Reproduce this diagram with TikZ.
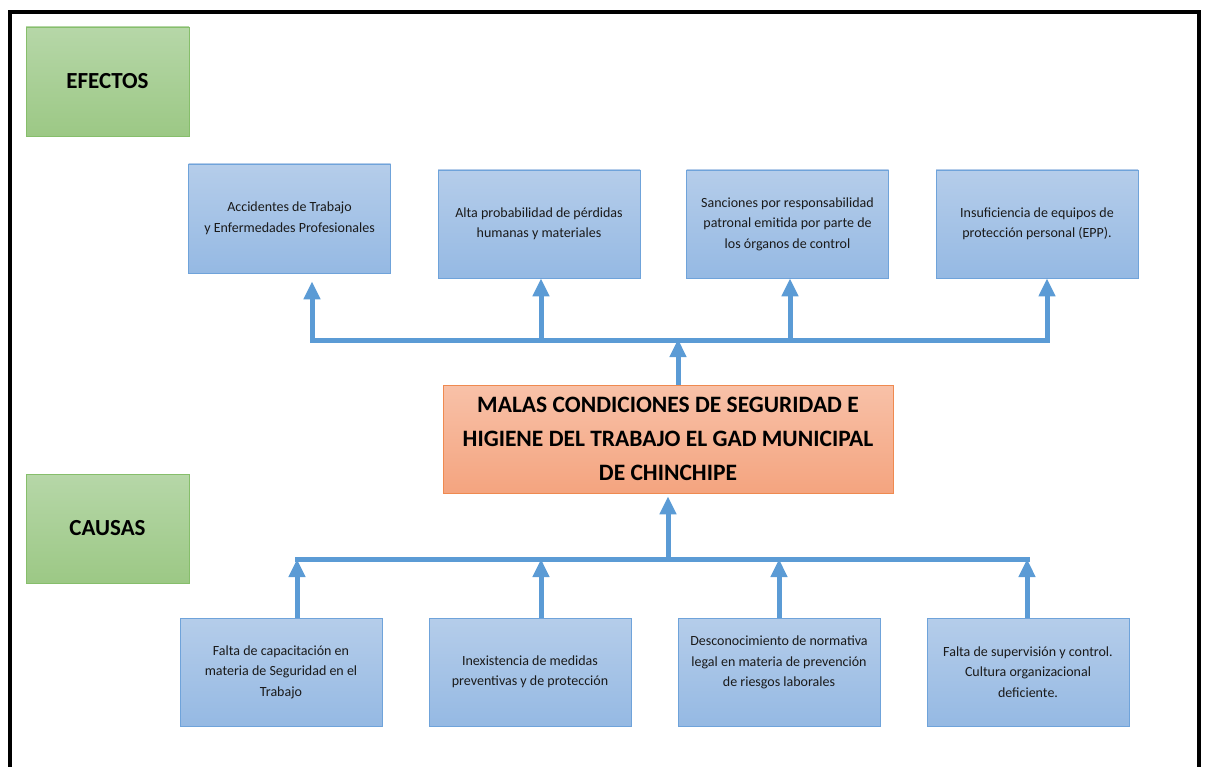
\documentclass[tikz,border=0pt]{standalone}
\usepackage{fontspec}
\setmainfont{Carlito}
\usetikzlibrary{arrows.meta}
\definecolor{bluetop}{HTML}{B5CDEA}
\definecolor{bluebot}{HTML}{95B9E3}
\definecolor{blueedge}{HTML}{6FA3DA}
\definecolor{greentop}{HTML}{B6D7A8}
\definecolor{greenbot}{HTML}{9CC885}
\definecolor{greenedge}{HTML}{86BE6B}
\definecolor{orangetop}{HTML}{F8C1A8}
\definecolor{orangebot}{HTML}{F4A47F}
\definecolor{orangeedge}{HTML}{EF8A50}
\definecolor{arrowblue}{HTML}{5B9BD5}
\definecolor{txt}{HTML}{1A1A1A}
\tikzset{
  bluebox/.style={draw=blueedge, line width=0.9pt, top color=bluetop, bottom color=bluebot,
    minimum width=202pt, minimum height=108pt, inner sep=0pt, align=center, text=txt,
    font=\fontsize{14}{20.5}\selectfont},
  greenbox/.style={draw=greenedge, line width=0.9pt, top color=greentop, bottom color=greenbot,
    minimum width=163pt, minimum height=109pt, inner sep=0pt, align=center,
    font=\fontsize{23}{26}\selectfont\bfseries},
  mainbox/.style={draw=orangeedge, line width=0.9pt, top color=orangetop, bottom color=orangebot,
    minimum width=450pt, minimum height=108pt, inner sep=0pt, align=center,
    font=\fontsize{23.5}{34}\selectfont\bfseries},
  bar/.style={draw=arrowblue, line width=5pt, line cap=rect},
  uparrow/.style={draw=arrowblue, line width=5pt, -{Triangle[width=16pt,length=18pt]}},
}
\begin{document}
\begin{tikzpicture}[x=1pt,y=-1pt]
\useasboundingbox (0,0) rectangle (1205,767);
% outer frame
\draw[line width=4pt] (10,775) -- (10,12) -- (1199,12) -- (1199,775);

% labels
\node[greenbox] (efectos) at (107.5,81.5) {EFECTOS};
\node[greenbox] (causas) at (107.5,528.5) {CAUSAS};

% effects
\node[bluebox, minimum height=109pt] (e1) at (289.5,218.5) {Accidentes de Trabajo\\y Enfermedades Profesionales};
\node[bluebox] (e2) at (539,224) {Alta probabilidad de pérdidas\\humanas y materiales};
\node[bluebox] (e3) at (787.5,224) {Sanciones por responsabilidad\\patronal emitida por parte de\\los órganos de control};
\node[bluebox] (e4) at (1037,224) {Insuficiencia de equipos de\\protección personal (EPP).};

% main problem
\node[mainbox] (main) at (668,439) {MALAS CONDICIONES DE SEGURIDAD E\\HIGIENE DEL TRABAJO EL GAD MUNICIPAL\\DE CHINCHIPE};

% causes
\node[bluebox] (c1) at (281,672) {Falta de capacitación en\\materia de Seguridad en el\\Trabajo};
\node[bluebox] (c2) at (530,672) {Inexistencia de medidas\\preventivas y de protección};
\node[bluebox] (c3) at (779,672) {\raisebox{6pt}[0pt][0pt]{\parbox{195pt}{\centering Desconocimiento de normativa\\legal en materia de prevención\\de riesgos laborales}}};
\node[bluebox] (c4) at (1028,672) {Falta de supervisión y control.\\Cultura organizacional\\deficiente.};

% top distribution bar
\coordinate (t1) at (312,341);
\coordinate (t2) at (541,341);
\coordinate (t3) at (790,341);
\coordinate (t4) at (1047,341);
\coordinate (tc) at (678,341);
\draw[bar] (t1) -- (t4);
\draw[uparrow, shorten >=8pt] (t1) -- (t1 |- e1.south);
\draw[uparrow] (t2) -- (t2 |- e2.south);
\draw[uparrow] (t3) -- (t3 |- e3.south);
\draw[uparrow] (t4) -- (t4 |- e4.south);
\draw[uparrow] (tc |- main.north) -- ([yshift=2pt]tc);

% bottom collection bar
\coordinate (b1) at (297,559);
\coordinate (b2) at (541,559);
\coordinate (b3) at (779,559);
\coordinate (b4) at (1027,559);
\coordinate (bc) at (668,559);
\draw[bar] (b1) -- (b4);
\draw[uparrow] (b1 |- c1.north) -- (b1);
\draw[uparrow] (b2 |- c2.north) -- (b2);
\draw[uparrow] (b3 |- c3.north) -- (b3);
\draw[uparrow] (b4 |- c4.north) -- (b4);
\draw[uparrow, shorten >=3pt] (bc) -- (bc |- main.south);
\end{tikzpicture}
\end{document}
